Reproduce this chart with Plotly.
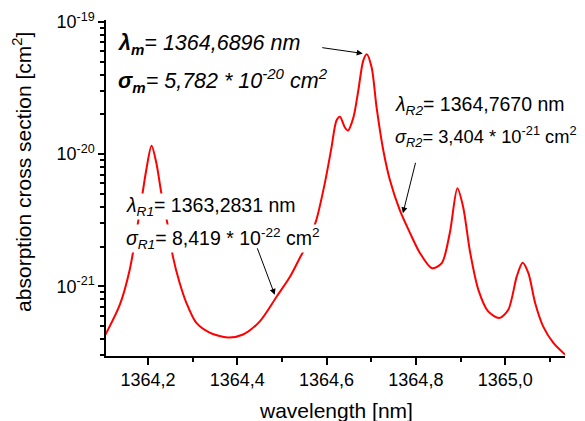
import plotly.graph_objects as go
import math

# wavelength [nm]
wavelength = [1364.105, 1364.137, 1364.159, 1364.181, 1364.196, 1364.208, 1364.219, 1364.230,
              1364.245, 1364.256, 1364.271, 1364.286, 1364.308, 1364.338, 1364.379, 1364.413,
              1364.450, 1364.488, 1364.518, 1364.540, 1364.559, 1364.577, 1364.596, 1364.611,
              1364.622, 1364.630, 1364.641, 1364.648, 1364.660, 1364.671, 1364.682, 1364.690,
              1364.701, 1364.712, 1364.727, 1364.742, 1364.764, 1364.787, 1364.809, 1364.836,
              1364.858, 1364.876, 1364.893, 1364.906, 1364.921, 1364.940, 1364.962, 1364.987,
              1365.007, 1365.026, 1365.039, 1365.052, 1365.067, 1365.085, 1365.108, 1365.134]
# absorption cross section [cm^2]
cross_section = [4.32e-22, 7.26e-22, 1.33e-21, 3.57e-21, 7.53e-21, 1.16e-20, 8.51e-21, 5.06e-21,
                 2.81e-21, 1.67e-21, 1.06e-21, 7.51e-22, 5.31e-22, 4.47e-22, 4.10e-22, 4.32e-22,
                 5.41e-22, 8.34e-22, 1.18e-21, 1.64e-21, 2.17e-21, 3.17e-21, 6.01e-21, 1.12e-20,
                 1.79e-20, 1.92e-20, 1.59e-20, 1.51e-20, 1.89e-20, 3.02e-20, 5.08e-20, 5.70e-20,
                 4.52e-20, 2.26e-20, 1.07e-20, 6.34e-21, 3.77e-21, 2.53e-21, 1.79e-21, 1.37e-21,
                 1.50e-21, 2.53e-21, 5.52e-21, 3.97e-21, 1.85e-21, 9.41e-22, 6.46e-22, 5.77e-22,
                 6.65e-22, 1.19e-21, 1.51e-21, 1.26e-21, 7.51e-22, 4.98e-22, 3.73e-22, 3.05e-22]

x_tick_vals = [1364.2, 1364.4, 1364.6, 1364.8, 1365.0]
x_tick_text = ["1364,2", "1364,4", "1364,6", "1364,8", "1365,0"]
x_minor_vals = [1364.1, 1364.3, 1364.5, 1364.7, 1364.9, 1365.1]
y_tick_vals = [1e-21, 1e-20, 1e-19]
y_tick_text = ["10<sup>-21</sup>", "10<sup>-20</sup>", "10<sup>-19</sup>"]
y_minor_vals = [m * 10.0 ** e for e in (-22, -21, -20) for m in range(2, 10)]

# annotated points (arrow tips)
peak_m = (1364.681, 5.78e-20)
point_r2 = (1364.771, 3.57e-21)
point_r1 = (1364.484, 8.63e-22)

FONT = "Liberation Sans, Arial, sans-serif"
TICK_FS = 18
TITLE_FS = 21
ANN_FS = 19.5
MAIN_FS = 21.5

fig = go.Figure()
fig.add_trace(go.Scatter(x=wavelength, y=cross_section, mode="lines",
                         line=dict(color="#ff0000", width=2, shape="spline", smoothing=0.8),
                         showlegend=False, hoverinfo="skip"))

axis_common = dict(showline=True, linecolor="black", linewidth=1.5, ticks="outside",
                   tickcolor="black", tickwidth=1.5, showgrid=False, zeroline=False,
                   automargin=False,
                   tickfont=dict(family=FONT, size=TICK_FS, color="black"))

fig.update_xaxes(range=[1364.106, 1365.134], tickmode="array", tickvals=x_tick_vals,
                 ticktext=x_tick_text, ticklen=7,
                 minor=dict(tickmode="array", tickvals=x_minor_vals, ticklen=4, tickwidth=1.5,
                            tickcolor="black", ticks="outside", showgrid=False),
                 **axis_common)
fig.update_yaxes(type="log", range=[-21.527, -18.985], tickmode="array", tickvals=y_tick_vals,
                 ticktext=y_tick_text, ticklen=6,
                 minor=dict(tickmode="array", tickvals=y_minor_vals, ticklen=4, tickwidth=1.5,
                            tickcolor="black", ticks="outside", showgrid=False),
                 **axis_common)

anns = []
def txt(text, x, y, size):
    anns.append(dict(text=text, xref="paper", yref="paper", x=x, y=y, xanchor="left",
                     yanchor="middle", showarrow=False, bgcolor="white", borderpad=0,
                     font=dict(family=FONT, size=size, color="black")))

txt("<b><i>λ<sub>m</sub></i></b><i>= 1364,6896 nm</i>", 0.024, 0.926, MAIN_FS)
txt("<b><i>σ<sub>m</sub></i></b><i>= 5,782 * 10<sup>-20</sup> cm<sup>2</sup></i>", 0.024, 0.821, MAIN_FS)
txt("<i>λ<sub>R2</sub></i>= 1364,7670 nm", 0.628, 0.747, ANN_FS)
txt("<i>σ<sub>R2</sub></i>= 3,404 * 10<sup>-21</sup> cm<sup>2</sup>", 0.628, 0.652, 18.3)
txt("<i>λ<sub>R1</sub></i>= 1363,2831 nm", 0.041, 0.446, ANN_FS)
txt("<i>σ<sub>R1</sub></i>= 8,419 * 10<sup>-22</sup> cm<sup>2</sup>", 0.041, 0.351, ANN_FS)

def arrow(pt, ax, ay):
    anns.append(dict(text="", x=pt[0], y=math.log10(pt[1]), xref="x", yref="y",
                     ax=ax, ay=ay, axref="pixel", ayref="pixel", showarrow=True,
                     arrowhead=2, arrowsize=1.2, arrowwidth=1, arrowcolor="black"))

arrow(peak_m, -42, -6)
arrow(point_r2, 13, -52)
arrow(point_r1, -18, -48)

anns.append(dict(text="absorption cross section [cm<sup>2</sup>]", xref="paper", yref="paper",
                 x=-0.183, y=0.548, textangle=-90, showarrow=False, xanchor="center",
                 yanchor="middle", font=dict(family=FONT, size=TITLE_FS, color="black")))
anns.append(dict(text="wavelength [nm]", xref="paper", yref="paper",
                 x=0.5, y=-0.161, showarrow=False, xanchor="center",
                 yanchor="middle", font=dict(family=FONT, size=TITLE_FS, color="black")))

# the page body adds an 8 px offset, so the figure is 8 px smaller with shifted margins
fig.update_layout(width=577, height=413, margin=dict(l=98, r=20, t=12, b=65),
                  paper_bgcolor="white", plot_bgcolor="white", annotations=anns,
                  font=dict(family=FONT, size=TICK_FS, color="black"))

fig.write_html("out.html")
